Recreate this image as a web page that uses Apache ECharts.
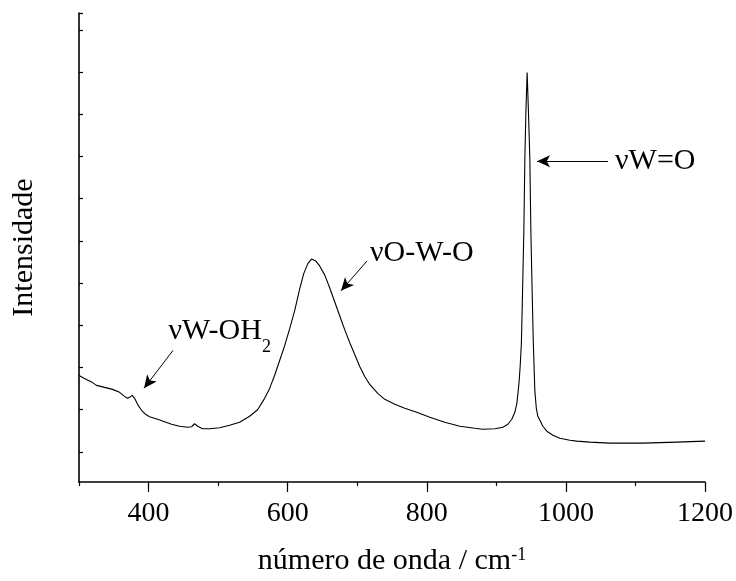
<!DOCTYPE html>
<html><head><meta charset="utf-8">
<script src="https://cdn.jsdelivr.net/npm/echarts@6/dist/echarts.min.js"></script>
<style>html,body{margin:0;padding:0;background:#fff}#c{width:736px;height:581px}</style>
</head><body><div id="c"></div>
<script>
// Raman spectrum (wavenumber in cm-1, intensity in arbitrary units)
const wavenumber = [300, 307.9, 318.0, 325.2, 336.7, 348.2, 358.3, 365.5, 369.8, 372.7,
  376.3, 379.9, 384.2, 389.9, 395.7, 401.4, 412.9, 423.0, 433.1, 444.6,
  456.1, 461.9, 466.2, 470.5, 477.7, 487.8, 502.2, 516.5, 530.9, 545.3,
  556.8, 566.9, 574.1, 581.3, 588.5, 595.7, 602.9, 610.1, 617.3, 623.0,
  628.8, 634.5, 640.3, 646.0, 653.2, 660.4, 667.6, 674.8, 682.0, 689.2,
  696.4, 703.6, 710.8, 718.0, 729.5, 739.6, 754.0, 768.4, 785.6, 804.3,
  825.9, 847.5, 869.1, 880.6, 897.9, 909.4, 916.6, 922.3, 926.6, 929.5,
  931.4, 933.1, 934.5, 936.0, 937.7, 939.6, 941.0, 942.4, 944.3, 946.3,
  948.2, 949.6, 951.5, 953.2, 955.4, 957.5, 959.7, 962.6, 966.9, 972.6,
  981.3, 991.3, 1005.7, 1015.8, 1034.5, 1063.3, 1110.8, 1159.7, 1200];
const intensity = [17.76, 17.04, 16.22, 15.39, 14.91, 14.44, 13.73, 12.78, 12.31, 12.54,
  13.02, 12.31, 10.88, 9.46, 8.51, 7.92, 7.33, 6.74, 6.14, 5.67,
  5.43, 5.55, 6.26, 5.67, 5.08, 5.08, 5.31, 5.91, 6.62, 8.04,
  9.60, 12.30, 14.67, 17.80, 21.31, 24.86, 28.89, 33.16, 38.37, 41.93,
  44.30, 45.48, 45.01, 43.82, 41.69, 38.61, 35.29, 31.97, 28.66, 25.58,
  22.73, 19.89, 17.52, 15.62, 13.49, 12.07, 10.88, 9.94, 8.99, 7.80,
  6.62, 5.67, 5.20, 4.96, 5.08, 5.43, 6.14, 7.33, 8.99, 11.12,
  13.96, 17.04, 20.60, 25.34, 37.66, 52.59, 69.18, 79.84, 89.86, 79.84,
  69.18, 52.59, 37.66, 25.34, 13.96, 9.94, 8.04, 7.09, 5.67, 4.49,
  3.54, 2.83, 2.35, 2.12, 1.88, 1.64, 1.64, 1.88, 2.12];

const xMin = 300, xMax = 1200;
const xTickLabels = [400, 600, 800, 1000, 1200];
const yMin = -7.6, yMax = 104;

// Annotations: label texts, label anchors and arrows (data space)
const annotationText = ['νW-OH{sub|2}', 'νO-W-O', 'νW=O'];
const annotationAt = [[428.5, 28.2], [718.4, 46.9], [1070.6, 68.7]];
const arrowFrom = [[435.1, 23.7], [714.1, 45.0], [1060.5, 68.7]];
const arrowTo = [[393.5, 14.7], [676.7, 37.9], [958.5, 68.7]];

const FONT = "'Liberation Serif', 'Times New Roman', serif";
const W = 736, H = 581;
const gl = 79, gr = 31, gt = 13, gb = 97;
const plotW = W - gl - gr, plotH = H - gt - gb;
const pxPerX = plotW / (xMax - xMin);
const pxPerY = plotH / (yMax - yMin);

const chart = echarts.init(document.getElementById('c'), null, {renderer: 'canvas'});
const black = '#000';

chart.setOption({
  animation: false,
  backgroundColor: '#fff',
  grid: [
    {left: gl, right: gr, top: gt, bottom: gb},
    // major x ticks grid: starts at first labelled tick
    {left: gl + (xTickLabels[0] - xMin) * pxPerX, right: gr, top: gt, bottom: gb},
    // y ticks grid: starts at y = 0
    {left: gl, right: gr, top: gt, bottom: gb + (0 - yMin) * pxPerY}
  ],
  xAxis: [
    {
      gridIndex: 0, type: 'value', min: xMin, max: xMax, interval: 100,
      axisLine: {onZero: false, lineStyle: {color: black, width: 1.6}},
      axisTick: {length: 4, lineStyle: {color: black, width: 1.2}},
      axisLabel: {show: false},
      splitLine: {show: false},
      name: 'número de onda / cm{sup|-1}',
      nameLocation: 'middle', nameGap: 64,
      nameTextStyle: {
        color: black, fontFamily: FONT, fontSize: 30,
        rich: {sup: {fontSize: 18, fontFamily: FONT, color: black, verticalAlign: 'top', lineHeight: 16}}
      }
    },
    {
      gridIndex: 1, type: 'value', min: xTickLabels[0], max: xMax, interval: 200,
      axisLine: {show: false, onZero: false},
      axisTick: {length: 8, lineStyle: {color: black, width: 1.2}},
      axisLabel: {color: black, fontFamily: FONT, fontSize: 28, margin: 16,
        formatter: v => String(v)},
      splitLine: {show: false}
    },
    {gridIndex: 2, type: 'value', min: xMin, max: xMax, show: false}
  ],
  yAxis: [
    {
      gridIndex: 0, type: 'value', min: yMin, max: yMax,
      axisLine: {show: true, onZero: false, lineStyle: {color: black, width: 1.6}},
      axisTick: {show: false}, axisLabel: {show: false}, splitLine: {show: false},
      name: 'Intensidade', nameLocation: 'middle', nameGap: 40,
      nameTextStyle: {color: black, fontFamily: FONT, fontSize: 30}
    },
    {gridIndex: 1, type: 'value', min: yMin, max: yMax, show: false},
    {
      gridIndex: 2, type: 'value', min: 0, max: yMax, interval: 10,
      axisLine: {show: false, onZero: false},
      axisTick: {inside: true, length: 4, lineStyle: {color: black, width: 1.2}},
      axisLabel: {show: false}, splitLine: {show: false}
    }
  ],
  series: [{
    type: 'line',
    xAxisIndex: 0, yAxisIndex: 0,
    data: wavenumber.map((x, i) => [x, intensity[i]]),
    showSymbol: false, symbol: 'none',
    lineStyle: {color: black, width: 1.1},
    silent: true,
    markLine: {
      silent: true, animation: false,
      symbol: ['none', 'arrow'], symbolSize: [9, 13],
      label: {show: false},
      lineStyle: {color: black, width: 1, type: 'solid'},
      emphasis: {disabled: true},
      data: arrowFrom.map((p, i) => [{coord: p}, {coord: arrowTo[i]}])
    },
    markPoint: {
      silent: true, animation: false,
      symbol: 'circle', symbolSize: 0,
      itemStyle: {color: 'rgba(0,0,0,0)'},
      label: {
        show: true, position: [0, 0], align: 'left', verticalAlign: 'middle',
        color: black, fontFamily: FONT, fontSize: 30, lineHeight: 30,
        formatter: p => p.data.txt,
        rich: {sub: {fontSize: 18, fontFamily: FONT, color: black, verticalAlign: 'top', lineHeight: 12, padding: [22, 0, 0, 0]}}
      },
      data: annotationText.map((t, i) => ({coord: annotationAt[i], txt: t}))
    }
  }]
});
</script>
</body></html>
